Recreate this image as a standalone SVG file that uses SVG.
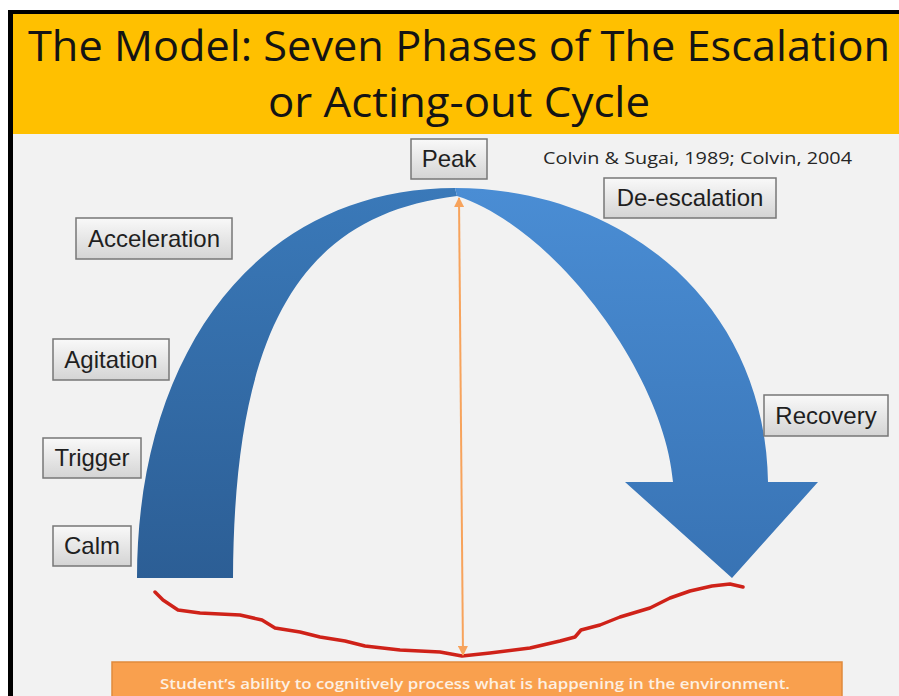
<svg xmlns="http://www.w3.org/2000/svg" width="899" height="696" viewBox="0 0 899 696">
<style>
.lbl rect{fill:url(#btn);stroke:#777777;stroke-width:1.5}
.lbl text{font-family:"Liberation Sans",Arial,sans-serif;font-size:24px;fill:#1f1f1f;text-anchor:middle}
.title{font-family:"Open Sans","Noto Sans",sans-serif;font-size:42px;fill:#141414;text-anchor:middle}
</style>
<defs>
<linearGradient id="btn" x1="0" y1="0" x2="0" y2="1">
<stop offset="0" stop-color="#f9f9f9"/><stop offset="1" stop-color="#d4d4d4"/>
</linearGradient>
<linearGradient id="gl" x1="0" y1="188" x2="0" y2="578" gradientUnits="userSpaceOnUse">
<stop offset="0" stop-color="#3a79b9"/><stop offset="1" stop-color="#2c5e95"/>
</linearGradient>
<linearGradient id="gr" x1="0" y1="188" x2="0" y2="578" gradientUnits="userSpaceOnUse">
<stop offset="0" stop-color="#4a8dd4"/><stop offset="1" stop-color="#3873b4"/>
</linearGradient>
<marker id="ah" viewBox="0 0 10 10" refX="9" refY="5" markerWidth="5" markerHeight="5" orient="auto-start-reverse">
<path d="M0,0 L10,5 L0,10 z" fill="#f7a35c"/>
</marker>
</defs>
<rect x="0" y="0" width="899" height="696" fill="#ffffff"/>
<rect x="8" y="10" width="891" height="686" fill="#000000"/>
<rect x="13" y="14" width="886" height="682" fill="#f2f2f2"/>
<rect x="13" y="14" width="886" height="120" fill="#ffc000"/>
<g id="title">
<text class="title" x="459" y="61" textLength="862" lengthAdjust="spacingAndGlyphs">The Model: Seven Phases of The Escalation</text>
<text class="title" x="459" y="117" textLength="382" lengthAdjust="spacingAndGlyphs">or Acting-out Cycle</text>
</g>
<text x="543" y="164" font-family="'Open Sans','Noto Sans',sans-serif" font-size="15.5" fill="#262626" textLength="309" lengthAdjust="spacingAndGlyphs">Colvin &amp; Sugai, 1989; Colvin, 2004</text>
<g id="arch">
<path d="M137,578 C137,350 260,188 455,188 L457,196 C300,215 234,330 233,578 Z" fill="url(#gl)"/>
<path d="M455,188 C620,188 765,300 768,482 L818,482 L732,578 L625,482 L673,482 C665,380 560,230 457,196 Z" fill="url(#gr)"/>
</g>
<path id="ability-line" d="M155,592 L163,600 L178,610 L200,613 L240,615 L262,620 L275,628 L300,632 L320,637 L345,641 L365,646 L400,650 L440,652 L462,656 L490,653 L530,648 L560,641 L575,637 L581,630 L600,625 L620,617 L650,608 L670,598 L690,591 L712,586 L730,584 L743,587" fill="none" stroke="#cf2219" stroke-width="3.5" stroke-linejoin="round" stroke-linecap="round"/>
<g id="connectors">
<line x1="459" y1="198" x2="463" y2="655" stroke="#f7a35c" stroke-width="2" marker-start="url(#ah)" marker-end="url(#ah)"/>
</g>
<g id="peak" class="lbl"><rect x="411" y="139" width="76" height="40"/><text x="449" y="167">Peak</text></g>
<g id="deescalation" class="lbl"><rect x="604" y="178" width="172" height="40"/><text x="690" y="206">De-escalation</text></g>
<g id="acceleration" class="lbl"><rect x="76" y="218" width="156" height="41"/><text x="154" y="247">Acceleration</text></g>
<g id="agitation" class="lbl"><rect x="53" y="339" width="116" height="41"/><text x="111" y="368">Agitation</text></g>
<g id="trigger" class="lbl"><rect x="43" y="438" width="98" height="40"/><text x="92" y="466">Trigger</text></g>
<g id="calm" class="lbl"><rect x="53" y="526" width="78" height="40"/><text x="92" y="554">Calm</text></g>
<g id="recovery" class="lbl"><rect x="764" y="395" width="124" height="41"/><text x="826" y="424">Recovery</text></g>
<g id="ability">
<rect x="112" y="662" width="730" height="40" fill="#f9a04e" stroke="#e08a3c" stroke-width="1.5"/>
<text x="475" y="689" font-family="'Open Sans','Noto Sans',sans-serif" font-size="15" font-weight="600" fill="#fdf0e2" text-anchor="middle" textLength="630" lengthAdjust="spacingAndGlyphs">Student’s ability to cognitively process what is happening in the environment.</text>
</g>
</svg>
